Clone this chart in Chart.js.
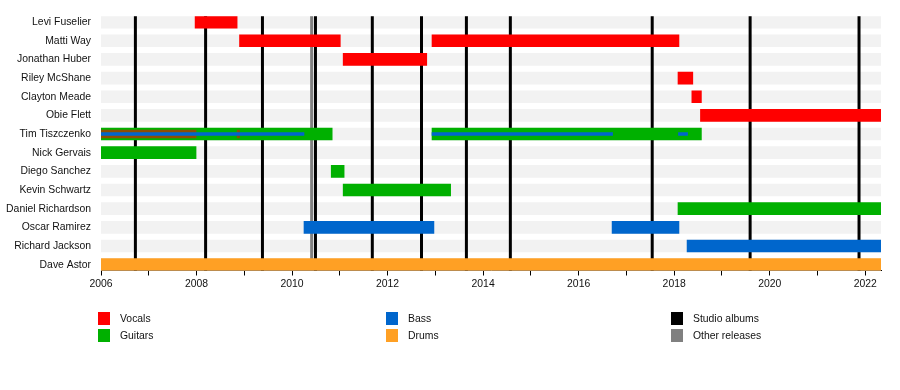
<!DOCTYPE html>
<html>
<head>
<meta charset="utf-8">
<script src="https://cdn.jsdelivr.net/npm/chart.js@4.4.1/dist/chart.umd.min.js"></script>
<style>
  body { margin: 0; background: #fff; font-family: 'Liberation Sans', Arial, sans-serif; }
  #wrap { position: relative; width: 900px; height: 300px; }
  .legend { position: absolute; left: 0; top: 0; width: 900px; height: 390px; font-size: 10.4px; color: #111; pointer-events: none; }
  .legend .item { position: absolute; white-space: nowrap; height: 13px; line-height: 13px; }
  .legend .sw { position: absolute; left: 0; top: 0; width: 12px; height: 13px; }
  .legend .lbl { position: absolute; left: 22px; top: 0; }
</style>
</head>
<body>
<div id="wrap"><canvas id="timeline" width="900" height="300"></canvas></div>
<div class="legend" id="legend"></div>

<script>
// 1. Data
const members = ['Levi Fuselier', 'Matti Way', 'Jonathan Huber', 'Riley McShane', 'Clayton Meade',
    'Obie Flett', 'Tim Tiszczenko', 'Nick Gervais', 'Diego Sanchez', 'Kevin Schwartz',
    'Daniel Richardson', 'Oscar Ramirez', 'Richard Jackson', 'Dave Astor'];
const START = 2006;
const END = 2022.33;
const yearLabels = ['2006', '2008', '2010', '2012', '2014', '2016', '2018', '2020', '2022'];

const vocals = [
    ['Levi Fuselier', 2007.97, 2008.85],
    ['Matti Way', 2008.9, 2011.01],
    ['Matti Way', 2012.93, 2018.1],
    ['Jonathan Huber', 2011.07, 2012.82],
    ['Riley McShane', 2018.08, 2018.39],
    ['Clayton Meade', 2018.37, 2018.57],
    ['Obie Flett', 2018.55, END]
];
const guitars = [
    ['Tim Tiszczenko', 2006, 2010.84],
    ['Tim Tiszczenko', 2012.93, 2018.57],
    ['Nick Gervais', 2006, 2007.99],
    ['Diego Sanchez', 2010.82, 2011.09],
    ['Kevin Schwartz', 2011.07, 2013.32],
    ['Daniel Richardson', 2018.08, END]
];
const bass = [
    ['Oscar Ramirez', 2010.25, 2012.97],
    ['Oscar Ramirez', 2016.7, 2018.1],
    ['Richard Jackson', 2018.27, END]
];
const drums = [
    ['Dave Astor', 2006, END]
];
// thin overlays on Tim's guitar bar
const extraVocals = [
    ['Tim Tiszczenko', 2006, 2007.99],
    ['Tim Tiszczenko', 2008.85, 2008.9]
];
const extraBass = [
    ['Tim Tiszczenko', 2006, 2010.25],
    ['Tim Tiszczenko', 2012.93, 2016.71],
    ['Tim Tiszczenko', 2018.09, 2018.28]
];
const studioAlbums = [2006.72, 2008.19, 2009.38, 2010.49, 2011.68, 2012.71, 2013.65, 2014.57, 2017.54, 2019.59, 2021.87];
const otherReleases = [2010.41];

const colors = {
    vocals: '#ff0000',
    guitars: '#00b000',
    bass: '#0066cc',
    drums: '#ffa024',
    studio: '#000000',
    other: '#808080',
    band: '#f2f2f2'
};

// 2. Helpers
function toPoints(rows) {
    return rows.map(r => ({ y: members.indexOf(r[0]), x: [r[1], r[2]] }));
}
const rowPad = 0.3139;

// 3. Album lines, drawn right after the grey row bands (so bars sit on top)
const albumLines = {
    id: 'albumLines',
    afterDatasetDraw(chart, args) {
        if (chart.data.datasets[args.index].id !== 'bands') return;
        const ctx = chart.ctx;
        const xs = chart.scales.x;
        const area = chart.chartArea;
        ctx.save();
        ctx.lineWidth = 3;
        ctx.strokeStyle = colors.other;
        otherReleases.forEach(v => {
            const px = xs.getPixelForValue(v);
            ctx.beginPath(); ctx.moveTo(px, area.top); ctx.lineTo(px, area.bottom); ctx.stroke();
        });
        ctx.strokeStyle = colors.studio;
        studioAlbums.forEach(v => {
            const px = xs.getPixelForValue(v);
            ctx.beginPath(); ctx.moveTo(px, area.top); ctx.lineTo(px, area.bottom); ctx.stroke();
        });
        ctx.restore();
    }
};

// 4. Chart
Chart.defaults.font.family = "'Liberation Sans', Arial, sans-serif";
Chart.defaults.font.size = 10.4;
Chart.defaults.color = '#111';

const barBase = { borderWidth: 0, borderSkipped: false, grouped: false };

new Chart(document.getElementById('timeline'), {
    type: 'bar',
    data: {
        datasets: [
            Object.assign({ label: 'Bass (2nd)', data: toPoints(extraBass), backgroundColor: colors.bass, barThickness: 3, order: 1 }, barBase),
            Object.assign({ label: 'Vocals (2nd)', data: toPoints(extraVocals), backgroundColor: 'rgba(255,0,0,0.55)', barThickness: 8, order: 2 }, barBase),
            Object.assign({ label: 'Vocals', data: toPoints(vocals), backgroundColor: colors.vocals, barThickness: 12, order: 5 }, barBase),
            Object.assign({ label: 'Guitars', data: toPoints(guitars), backgroundColor: colors.guitars, barThickness: 12, order: 5 }, barBase),
            Object.assign({ label: 'Bass', data: toPoints(bass), backgroundColor: colors.bass, barThickness: 12, order: 5 }, barBase),
            Object.assign({ label: 'Drums', data: toPoints(drums), backgroundColor: colors.drums, barThickness: 12, order: 5 }, barBase),
            Object.assign({ id: 'bands', label: 'rows', data: toPoints(members.map(m => [m, START, END])), backgroundColor: colors.band, barThickness: 12, order: 10 }, barBase)
        ]
    },
    options: {
        indexAxis: 'y',
        responsive: false,
        animation: false,
        layout: { padding: { top: 10, right: 19, left: 0, bottom: 0 } },
        plugins: { legend: { display: false }, tooltip: { enabled: false } },
        scales: {
            x: {
                type: 'linear',
                min: START,
                max: END,
                bounds: 'data',
                offset: false,
                afterFit: s => { s.height = 29.5; },
                border: { display: true, color: '#000', width: 1 },
                grid: { drawOnChartArea: false, drawTicks: true, tickLength: 5, color: '#000' },
                ticks: {
                    stepSize: 1,
                    includeBounds: false,
                    autoSkip: false,
                    maxRotation: 0,
                    padding: 2,
                    color: '#111',
                    callback: v => yearLabels.includes(String(v)) ? String(v) : ''
                }
            },
            y: {
                type: 'linear',
                reverse: true,
                offset: false,
                min: -rowPad,
                max: members.length - 1 + rowPad,
                bounds: 'data',
                afterFit: s => { s.width = 101; },
                afterBuildTicks: s => { s.ticks = members.map((m, i) => ({ value: i })); },
                border: { display: false },
                grid: { display: false, drawTicks: false },
                ticks: {
                    autoSkip: false,
                    padding: 10,
                    color: '#111',
                    callback: v => members[v] !== undefined ? members[v] : ''
                }
            }
        }
    },
    plugins: [albumLines]
});

// 5. Legend (three columns, two rows)
const legendItems = [
    ['Vocals', colors.vocals, 98, 312],
    ['Guitars', colors.guitars, 98, 329],
    ['Bass', colors.bass, 386, 312],
    ['Drums', colors.drums, 386, 329],
    ['Studio albums', colors.studio, 671, 312],
    ['Other releases', colors.other, 671, 329]
];
const legend = document.getElementById('legend');
legendItems.forEach(([text, color, left, top]) => {
    const item = document.createElement('div');
    item.className = 'item';
    item.style.left = left + 'px';
    item.style.top = top + 'px';
    item.innerHTML = '<span class="sw" style="background:' + color + '"></span><span class="lbl">' + text + '</span>';
    legend.appendChild(item);
});
</script>
</body>
</html>
